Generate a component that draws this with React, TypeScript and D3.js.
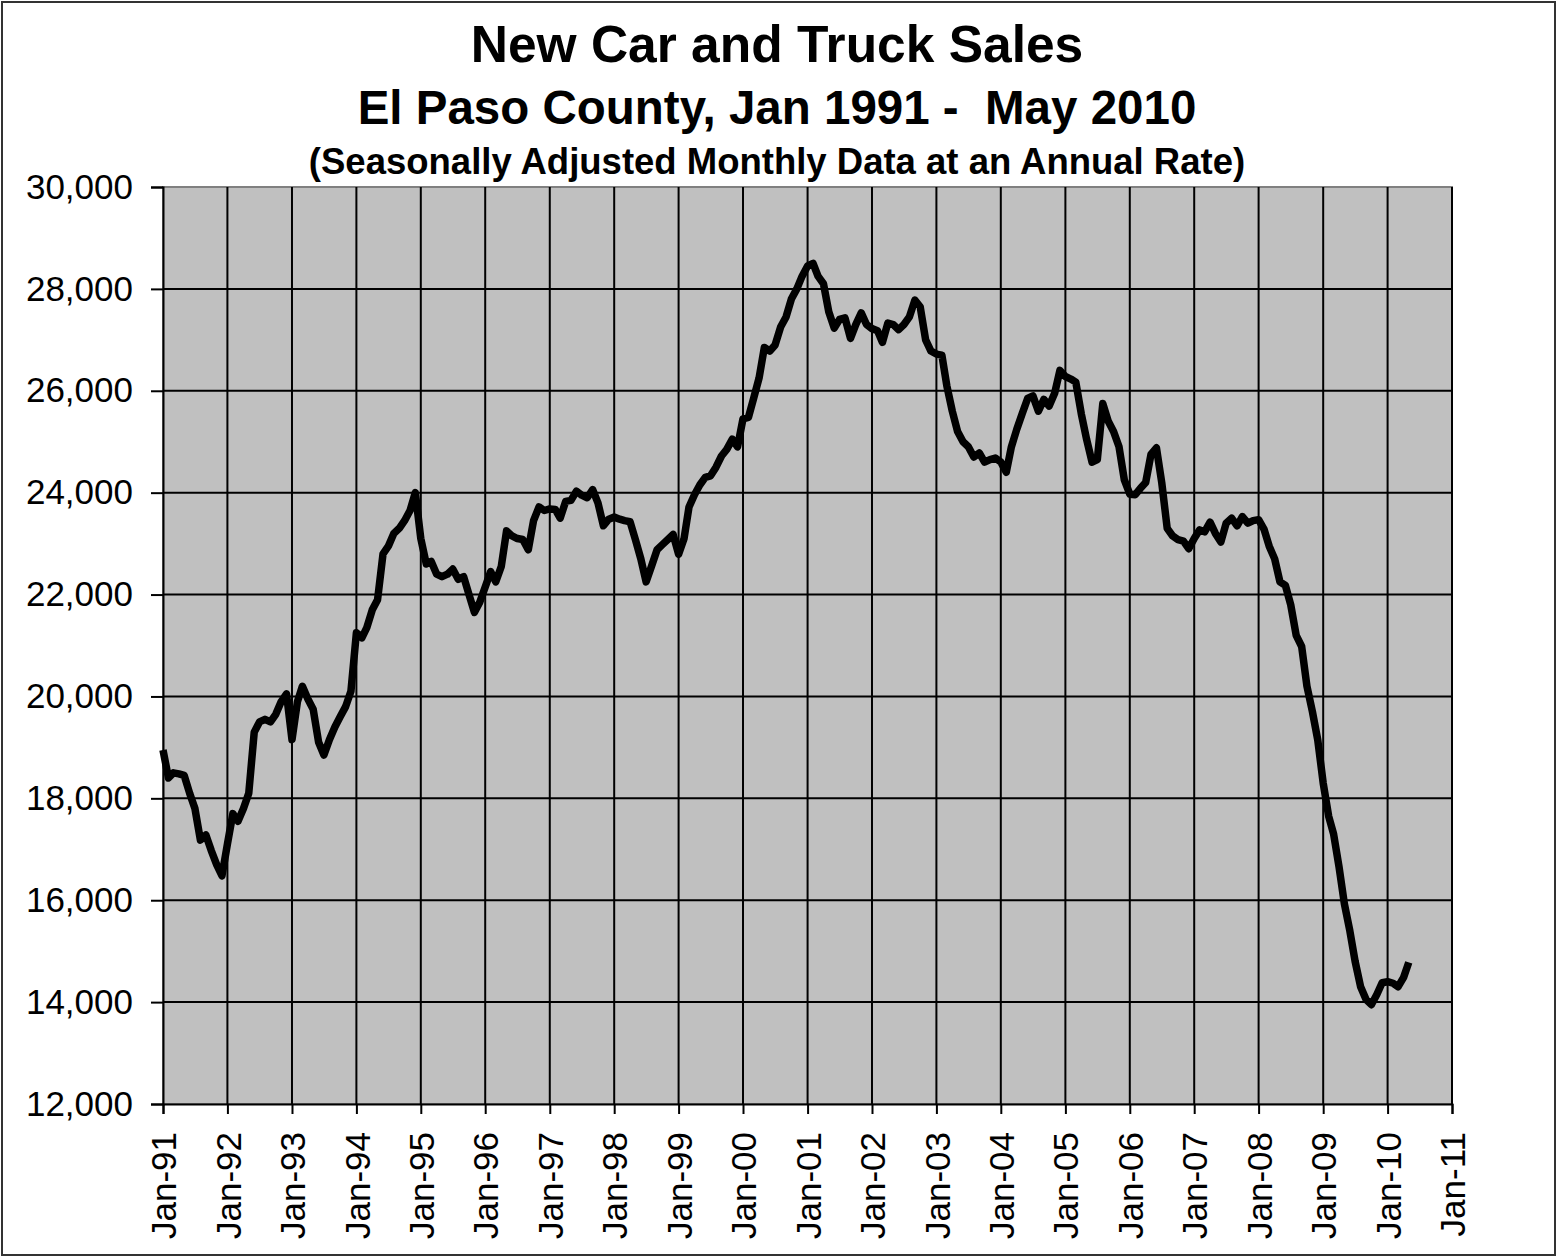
import React, { useEffect, useRef } from 'react';
import * as d3 from 'd3';

// monthly values, seasonally adjusted annual rate
const sales1991to1995 = [
  18950, 18400, 18500, 18480, 18450, 18100, 17800, 17180, 17280, 16980, 16700, 16480,
  17100, 17700, 17550, 17800, 18100, 19300, 19500, 19550, 19500, 19650, 19900, 20050,
  19150, 19900, 20200, 19950, 19750, 19100, 18850, 19150, 19400, 19600, 19800, 20100,
  21250, 21150, 21350, 21700, 21900, 22800, 22950, 23200, 23300, 23450, 23650, 24000,
  23100, 22600, 22650, 22400, 22350, 22400, 22500, 22300, 22350, 22000, 21650, 21850
];
const sales1996to2000 = [
  22150, 22450, 22250, 22550, 23250, 23150, 23100, 23080, 22880, 23450, 23720, 23650,
  23680, 23670, 23500, 23830, 23850, 24030, 23950, 23900, 24060, 23800, 23350, 23480,
  23520, 23480, 23450, 23430, 23080, 22700, 22250, 22560, 22880, 22980, 23080, 23180,
  22790, 23100, 23720, 23960, 24150, 24300, 24330, 24500, 24720, 24850, 25050, 24900,
  25450, 25480, 25850, 26250, 26850, 26780, 26900, 27250, 27450, 27800, 28000, 28250
];
const sales2001to2005 = [
  28450, 28500, 28250, 28100, 27550, 27230, 27400, 27430, 27030, 27300, 27530, 27300,
  27220, 27180, 26950, 27330, 27300, 27200, 27300, 27450, 27780, 27650, 27000, 26780,
  26720, 26700, 26100, 25600, 25200, 25000, 24900, 24700, 24780, 24600, 24650, 24680,
  24600, 24400, 24900, 25250, 25550, 25850, 25900, 25600, 25830, 25700, 25950, 26400,
  26280, 26230, 26170, 25550, 25050, 24600, 24650, 25750, 25400, 25200, 24900, 24250
];
const sales2006to2010 = [
  23970, 23960, 24080, 24200, 24750, 24880, 24200, 23300, 23150, 23080, 23050, 22900,
  23100, 23270, 23230, 23420, 23200, 23030, 23400, 23500, 23350, 23530, 23400, 23450,
  23470, 23280, 22950, 22700, 22250, 22180, 21800, 21200, 20980, 20200, 19700, 19150,
  18300, 17650, 17300, 16650, 15930, 15400, 14800, 14300, 14050, 13950, 14150, 14380,
  14400, 14370, 14300, 14480, 14780
];

const yTicks = [12000, 14000, 16000, 18000, 20000, 22000, 24000, 26000, 28000, 30000];
const xTickYears = d3.range(1991, 2012);

const titleLines = [
  'New Car and Truck Sales',
  'El Paso County, Jan 1991 -  May 2010',
  '(Seasonally Adjusted Monthly Data at an Annual Rate)'
];

const App = () => {
  const chartRef = useRef<SVGSVGElement>(null);

  useEffect(() => {
    const sales = [...sales1991to1995, ...sales1996to2000, ...sales2001to2005, ...sales2006to2010];
    const start = new Date(1991, 0, 1);
    const data = sales.map((v, i) => ({ date: d3.timeMonth.offset(start, i), value: v }));

    const width = 1557;
    const height = 1257;
    const plot = { left: 163, right: 1452, top: 187, bottom: 1104 };
    const font = '"Liberation Sans", Arial, sans-serif';

    const svg = d3.select(chartRef.current);
    svg.selectAll('*').remove();
    svg.attr('width', width).attr('height', height);

    svg.append('rect')
      .attr('x', 2).attr('y', 2)
      .attr('width', width - 4).attr('height', height - 4)
      .attr('fill', '#fff')
      .attr('stroke', '#333')
      .attr('stroke-width', 2);

    const x = d3.scaleTime()
      .domain([new Date(1991, 0, 1), new Date(2011, 0, 1)])
      .range([plot.left, plot.right]);

    const y = d3.scaleLinear()
      .domain([12000, 30000])
      .range([plot.bottom, plot.top]);

    svg.append('rect')
      .attr('x', plot.left).attr('y', plot.top)
      .attr('width', plot.right - plot.left).attr('height', plot.bottom - plot.top)
      .attr('fill', '#c0c0c0')
      .attr('stroke', '#808080')
      .attr('stroke-width', 2);

    const tickDates = xTickYears.map(yr => new Date(yr, 0, 1));

    // grid
    svg.append('g')
      .selectAll('line')
      .data(yTicks.filter(t => t > 12000 && t < 30000))
      .join('line')
      .attr('x1', plot.left).attr('x2', plot.right)
      .attr('y1', d => y(d)).attr('y2', d => y(d))
      .attr('stroke', '#000').attr('stroke-width', 2);

    svg.append('g')
      .selectAll('line')
      .data(tickDates.slice(1))
      .join('line')
      .attr('x1', d => x(d)).attr('x2', d => x(d))
      .attr('y1', plot.top).attr('y2', plot.bottom)
      .attr('stroke', '#000').attr('stroke-width', 2);

    // y axis
    const yAxis = svg.append('g')
      .attr('transform', `translate(${plot.left},0)`)
      .call(d3.axisLeft(y).tickValues(yTicks).tickSize(12).tickPadding(18).tickFormat(d3.format(',')));
    yAxis.select('.domain').attr('stroke', '#000').attr('stroke-width', 2);
    yAxis.selectAll('.tick line').attr('stroke', '#000').attr('stroke-width', 2);
    yAxis.selectAll('.tick text')
      .attr('font-family', font).attr('font-size', 35).attr('fill', '#000');

    // x axis
    const xAxis = svg.append('g')
      .attr('transform', `translate(0,${plot.bottom})`)
      .call(d3.axisBottom(x).tickValues(tickDates).tickSize(10).tickFormat(d3.timeFormat('%b-%y') as any));
    xAxis.select('.domain').attr('stroke', '#000').attr('stroke-width', 2);
    xAxis.selectAll('.tick line').attr('stroke', '#000').attr('stroke-width', 2);
    xAxis.selectAll('.tick text')
      .attr('font-family', font).attr('font-size', 35).attr('fill', '#000')
      .attr('text-anchor', 'end')
      .attr('transform', 'rotate(-90)')
      .attr('x', -28).attr('y', 0).attr('dy', '0.36em');

    // series
    const line = d3.line<{ date: Date; value: number }>()
      .x(d => x(d.date))
      .y(d => y(d.value));

    svg.append('path')
      .datum(data)
      .attr('d', line)
      .attr('fill', 'none')
      .attr('stroke', '#000')
      .attr('stroke-width', 7.5)
      .attr('stroke-linejoin', 'round');

    // titles
    const titleSizes = [51.5, 47.5, 36.5];
    const titleBase = [62, 124, 174];
    svg.append('g')
      .selectAll('text')
      .data(titleLines)
      .join('text')
      .attr('x', 777)
      .attr('y', (d, i) => titleBase[i])
      .attr('text-anchor', 'middle')
      .attr('font-family', font)
      .attr('font-weight', 'bold')
      .attr('font-size', (d, i) => titleSizes[i])
      .style('white-space', 'pre')
      .text(d => d);
  }, []);

  return (
    <div style={{ position: 'absolute', left: 0, top: 0 }}>
      <svg ref={chartRef} style={{ display: 'block' }}></svg>
    </div>
  );
};

export default App;
